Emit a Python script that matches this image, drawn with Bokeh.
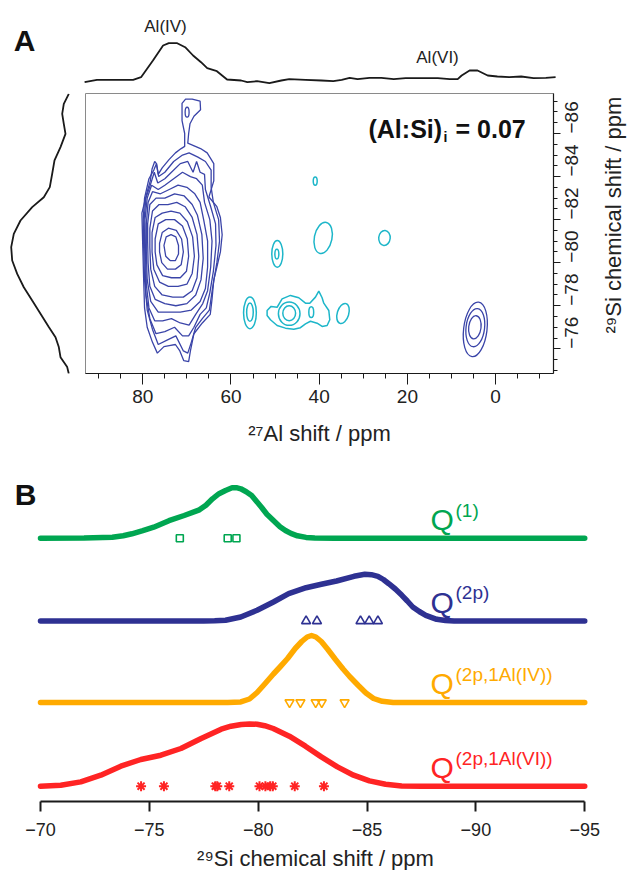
import math
from bokeh.plotting import figure
from bokeh.models import Range1d, FixedTicker, Label
from bokeh.layouts import column, row
from bokeh.embed import file_html
from bokeh.resources import INLINE

FONT = "Liberation Sans"

# ---------------- Panel A data ----------------
# 27Al projection (top trace)
al_proj_ppm = [93.2, 90.4, 85.0, 82.2, 80.4, 77.7, 75.4, 74.1, 72.2, 70.4, 68.6, 66.8, 65.4, 63.2, 60.9,
               57.7, 56.3, 54.1, 51.3, 48.6, 46.8, 43.1, 39.5, 36.8, 34.9, 33.1, 31.3, 28.6, 25.9, 23.1,
               20.4, 16.8, 13.1, 10.4, 8.6, 7.7, 5.9, 4.1, 1.8, -0.4, -3.1, -5.8, -8.6, -11.4, -13.6]
al_proj_int = [0.3, 2.7, 2.7, 2.7, 5.3, 22, 37, 39.3, 39.3, 35.3, 27, 20.3, 14.3, 11.3, 3,
               2, 0.3, 1.3, -0.7, 2, 3.3, 2.7, 2, 1.3, 2.7, 4.7, 3.3, 4.7, 4.7, 3.3,
               4.3, 4.3, 4.3, 3.3, 3.3, 7, 12, 12, 7, 6, 5.3, 6, 4.3, 4.7, 5.3]

# 29Si projection (left trace)
si_proj_ppm = [-87.84, -87.38, -86.91, -86.45, -85.98, -85.37, -84.75, -84.13, -83.51, -83.04, -82.58,
               -81.96, -81.34, -80.72, -80.10, -79.48, -78.86, -78.24, -77.63, -77.01, -76.54, -76.08,
               -75.61, -75.15, -74.84]
si_proj_int = [1.7, 6.7, 8.3, 6.7, 5, 10, 16, 18.3, 20.7, 26.7, 38.3, 50, 56.7, 59.3, 58.3, 53.3,
               46.7, 38.3, 30, 21.7, 15, 11.7, 10, 3.3, 1.7]

# Al(IV) correlation: nested contour levels (27Al ppm, 29Si ppm)
alIV_contours_al = [
    [70.5, 70.5, 71.1, 71.1, 70.3, 68.8, 67.0, 66.9, 68.4, 69.3, 69.6, 69.8, 66.9, 65.4, 63.9, 63.9, 65.0, 63.2,
     62.4, 62.0, 62.4, 63.2, 63.9, 64.3, 64.7, 66.5, 68.4, 69.2, 69.6, 70.7, 71.6, 72.6, 74.0, 75.2, 76.7, 77.8,
     79.0, 79.6, 79.8, 80.0, 80.2, 79.6, 79.0, 78.3, 77.9, 77.3, 76.9, 76.5, 75.6, 74.0, 72.6, 71.3],
    [79.9, 79.6, 78.6, 77.5, 76.9, 76.4, 75.0, 73.0, 71.0, 69.5, 67.5, 65.8, 64.5, 64.5, 64.0, 62.8, 62.6, 63.2,
     64.2, 64.9, 66.5, 68.0, 69.0, 69.8, 70.8, 72.5, 74.5, 76.5, 77.8, 79.0, 79.6, 79.8],
    [79.7, 79.3, 78.3, 77.4, 76.6, 75.0, 73.5, 71.5, 69.8, 68.6, 67.8, 67.0, 66.0, 65.8, 64.6, 63.5, 63.4, 64.0,
     64.8, 65.6, 67.0, 68.4, 69.6, 71.0, 72.8, 75.0, 77.0, 78.4, 79.3, 79.5, 79.6],
    [79.5, 79.0, 78.0, 76.5, 75.0, 73.0, 71.0, 69.2, 67.8, 66.5, 66.0, 64.8, 64.3, 64.6, 65.3, 66.4, 68.0, 69.5,
     71.5, 73.5, 75.5, 77.3, 78.6, 79.2, 79.4],
    [79.2, 78.8, 77.8, 76.0, 74.0, 72.0, 70.0, 68.2, 67.0, 66.2, 65.3, 65.3, 65.8, 67.0, 69.0, 71.5, 74.0, 76.5,
     78.2, 79.0, 79.2],
    [78.9, 78.4, 77.0, 75.0, 72.8, 70.6, 68.8, 67.6, 66.6, 66.3, 66.8, 68.0, 70.0, 72.5, 75.0, 77.2, 78.4, 78.8, 78.9],
    [78.4, 77.8, 76.3, 74.3, 72.3, 70.4, 68.8, 67.7, 67.3, 67.7, 68.8, 70.8, 73.2, 75.6, 77.3, 78.2, 78.4],
    [77.9, 77.2, 75.6, 73.6, 71.6, 69.9, 68.7, 68.3, 68.8, 70.0, 72.0, 74.2, 76.2, 77.5, 77.9],
    [77.2, 76.5, 74.8, 72.8, 71.0, 69.9, 69.6, 70.1, 71.5, 73.5, 75.5, 76.8, 77.2],
    [76.2, 75.6, 74.2, 72.4, 71.2, 70.8, 71.3, 72.6, 74.4, 75.7, 76.2],
    [75.2, 74.7, 73.6, 72.5, 71.9, 71.9, 72.6, 73.8, 74.8],
]
alIV_contours_si = [
    [-85.4, -86.0, -86.6, -87.4, -87.6, -87.6, -87.5, -87.1, -86.8, -86.45, -86.0, -85.55, -85.3, -85.1, -84.6,
     -83.8, -83.05, -82.6, -82.1, -81.3, -80.5, -79.8, -79.2, -78.3, -77.6, -77.2, -76.7, -75.9, -75.4, -75.45,
     -75.9, -76.2, -76.15, -76.1, -75.8, -76.3, -77.0, -77.9, -79.2, -80.7, -82.3, -82.8, -83.3, -83.8, -84.35,
     -84.7, -84.6, -84.1, -84.4, -84.8, -85.1, -85.3],
    [-82.0, -83.0, -83.9, -84.3, -84.6, -84.0, -84.2, -84.7, -85.0, -85.1, -84.9, -84.7, -84.3, -83.5, -82.8,
     -82.0, -81.0, -80.0, -78.8, -77.8, -77.4, -77.0, -76.3, -75.8, -75.9, -76.6, -76.4, -76.2, -76.9, -77.8,
     -79.2, -80.7],
    [-82.0, -83.0, -83.6, -84.2, -83.7, -83.9, -84.2, -84.6, -84.7, -84.2, -84.7, -84.2, -84.1, -83.4, -82.6,
     -81.8, -80.8, -79.6, -78.6, -77.9, -77.6, -77.0, -76.6, -76.6, -77.0, -76.8, -76.7, -77.4, -78.5, -80.0,
     -81.0],
    [-82.0, -83.0, -83.6, -83.4, -83.6, -83.9, -84.2, -84.0, -83.9, -83.6, -82.8, -82.0, -81.0, -79.8, -78.7,
     -78.1, -77.6, -77.1, -77.2, -77.4, -77.3, -77.3, -77.9, -79.0, -80.5],
    [-81.8, -82.8, -83.3, -83.2, -83.4, -83.6, -83.5, -83.2, -82.8, -82.0, -81.0, -79.8, -78.8, -78.2, -77.8,
     -77.7, -77.7, -77.7, -78.2, -79.2, -80.5],
    [-81.8, -82.7, -83.0, -83.0, -83.2, -83.1, -82.7, -82.2, -81.3, -80.2, -79.2, -78.5, -78.1, -78.0, -78.1,
     -78.3, -78.9, -80.0, -81.0],
    [-81.6, -82.4, -82.7, -82.7, -82.8, -82.6, -82.1, -81.3, -80.3, -79.3, -78.7, -78.4, -78.4, -78.5, -78.9,
     -79.7, -80.7],
    [-81.4, -82.1, -82.3, -82.4, -82.3, -81.9, -81.2, -80.3, -79.5, -79.0, -78.9, -78.9, -79.1, -79.7, -80.5],
    [-81.1, -81.8, -82.0, -82.0, -81.7, -81.1, -80.3, -79.6, -79.3, -79.3, -79.4, -79.9, -80.5],
    [-80.9, -81.4, -81.6, -81.5, -81.1, -80.5, -79.9, -79.7, -79.7, -80.0, -80.5],
    [-80.8, -81.2, -81.3, -81.2, -80.8, -80.4, -80.1, -80.1, -80.3],
]
# small closed blue contours (centre, extent in ppm)
blue_spot_al = [69.95, 4.6, 4.6, 4.7]
blue_spot_si = [-86.99, -76.9, -76.98, -77.0]
blue_spot_w = [0.9, 5.3, 4.2, 2.8]
blue_spot_h = [0.46, 2.55, 1.78, 1.08]
blue_spot_tilt = [0.0, -0.12, -0.12, -0.12]

# cyan (negative) contours
cyan_outline_al = [51.81, 50.90, 49.54, 48.41, 46.52, 44.63, 43.11, 42.13, 40.85, 40.09, 39.34, 38.96, 37.82,
                   37.60, 38.20, 39.34, 40.47, 41.98, 43.11, 44.25, 45.76, 47.65, 49.54, 51.05, 51.81]
cyan_outline_si = [-77.78, -77.97, -77.93, -78.32, -78.48, -78.37, -78.12, -78.12, -78.40, -78.68, -78.37,
                   -78.12, -77.78, -77.35, -77.08, -77.04, -77.19, -77.28, -77.16, -76.98, -76.91, -76.96,
                   -77.08, -77.35, -77.55]
cyan_spot_al = [55.7, 55.7, 49.5, 49.6, 46.8, 46.8, 41.8, 34.6, 39.1, 40.9, 25.2]
cyan_spot_si = [-77.67, -77.7, -80.41, -80.4, -77.63, -77.65, -77.70, -77.64, -81.15, -83.79, -81.15]
cyan_spot_w = [2.9, 1.5, 2.5, 0.9, 4.9, 2.9, 1.1, 2.6, 4.0, 0.9, 2.6]
cyan_spot_h = [1.47, 0.85, 1.24, 0.46, 1.08, 0.7, 0.5, 0.96, 1.47, 0.39, 0.7]
cyan_spot_tilt = [0, 0, 0, 0, 0, 0, 0, -0.3, -0.2, 0, -0.1]

al_major = [80, 60, 40, 20, 0]
al_minor = [90, 85, 75, 70, 65, 55, 50, 45, 35, 30, 25, 15, 10, 5, -5, -10]
si_major = [-86, -84, -82, -80, -78, -76]
si_minor = [-87.5, -87, -86.5, -85.5, -85, -84.5, -83.5, -83, -82.5, -81.5, -81, -80.5, -79.5, -79, -78.5,
            -77.5, -77, -76.5, -75.5, -75]

# ---------------- Panel B data ----------------
q1_ppm = [-70.0, -72.0, -73.3, -73.8, -74.2, -74.7, -75.2, -75.9, -76.6, -77.3, -77.6, -77.9, -78.2, -78.5,
          -78.8, -79.0, -79.2, -79.45, -79.7, -79.9, -80.15, -80.4, -80.7, -81.0, -81.25, -81.5, -81.8, -82.2,
          -82.6, -83.5, -95.0]
q1_int = [0, 0.2, 1.0, 2.4, 4.4, 7.5, 11, 17.5, 22.7, 28.4, 33, 39.4, 44.5, 47.7, 50.4, 50.5, 49.4, 46.5,
          42.7, 37.5, 31, 24, 17.7, 11.5, 7.7, 4.8, 2.4, 0.8, 0.2, 0, 0]
q2_ppm = [-70.0, -77.5, -78.0, -78.5, -79.2, -79.95, -80.7, -81.4, -82.2, -82.9, -83.6, -84.4, -84.9, -85.2,
          -85.5, -85.75, -86.0, -86.3, -86.6, -86.85, -87.1, -87.4, -87.7, -88.2, -88.6, -89.0, -95.0]
q2_int = [0, 0, 0.2, 0.7, 4, 10.7, 19, 27.3, 33.3, 36.7, 40, 44.7, 46.7, 46.3, 44.7, 41.5, 37.3, 32, 25.7,
          20, 14, 9.5, 5.7, 1.7, 0.6, 0, 0]
q4_ppm = [-70.0, -78.6, -79.2, -79.6, -79.95, -80.3, -80.7, -81.0, -81.35, -81.7, -82.0, -82.25, -82.45,
          -82.65, -82.9, -83.2, -83.55, -83.9, -84.2, -84.6, -84.95, -85.3, -85.7, -86.2, -95.0]
q4_int = [0, 0, 0.6, 3.5, 10, 18.5, 28.5, 35.5, 44, 54, 61, 65.5, 67, 65.5, 61, 53, 43, 33.5, 26, 17,
          9.5, 4, 1.2, 0.1, 0]
q6_ppm = [-70.0, -70.93, -71.85, -72.77, -73.69, -74.61, -75.53, -76.45, -77.38, -78.30, -78.75, -79.22,
          -79.6, -79.95, -80.3, -80.69, -81.43, -82.17, -82.90, -83.64, -84.38, -85.11, -85.85, -86.59, -87.5,
          -95.0]
q6_int = [0, 1, 4.3, 11, 20, 26.7, 31, 37.7, 47.7, 57, 60, 61.7, 62.3, 62, 60.5, 57.7, 50, 40, 29.3, 19.3,
          11, 5.3, 2, 0.3, 0, 0]

q1_sites = [-76.4, -78.6, -79.0]
q2_sites = [-82.2, -82.7, -84.7, -85.1, -85.5]
q4_sites = [-81.44, -81.94, -82.64, -82.92, -83.97]
q6_sites = [-74.62, -75.67, -78.03, -78.12, -78.67, -80.06, -80.33, -80.55, -80.67, -81.68, -83.02]

b_ticks = [-70, -75, -80, -85, -90, -95]

# ---------------- styles ----------------
C_BLUE_CT = "#3A44A8"
C_CYAN = "#1DB6C9"
C_GREEN = "#00A651"
C_NAVY = "#2E3192"
C_ORANGE = "#FFAA00"
C_RED = "#FF2424"
C_BLACK = "#1A1A1A"
C_TEXT = "#222222"


def base_fig(**kw):
    p = figure(output_backend="svg", toolbar_location=None, **kw)
    p.xgrid.visible = False
    p.ygrid.visible = False
    p.background_fill_color = "white"
    p.border_fill_color = "white"
    return p


def blank_fig(width, height, xr, yr):
    p = base_fig(width=width, height=height, x_range=Range1d(*xr), y_range=Range1d(*yr),
                 x_axis_location=None, y_axis_location=None,
                 min_border_left=0, min_border_right=0, min_border_top=0, min_border_bottom=0)
    p.outline_line_color = None
    return p


# helpers: picture pixel -> data coordinates (for annotation placement only)
def ax(rx):
    return 80 - (rx - 142.3) / 4.41


def ay(ry):
    return -86 + (ry - 133) / 21.53


def bx(rx):
    return -70 - (rx - 40) / 21.77


def by(ry):
    return 801 - ry


# ---- top trace (picture rows 0-92) ----
top = blank_fig(629, 92, (112.27, -30.36), (-10, 82))
top.line(al_proj_ppm, al_proj_int, line_color=C_BLACK, line_width=1.8)
top.add_layout(Label(x=ax(24), y=82 - 40, text="A", text_font=FONT, text_font_size="30px",
                     text_font_style="bold", text_align="center", text_baseline="middle", text_color="#111"))
top.add_layout(Label(x=ax(165), y=82 - 26, text="Al(IV)", text_font=FONT, text_font_size="17px",
                     text_align="center", text_baseline="middle", text_color=C_TEXT))
top.add_layout(Label(x=ax(437), y=82 - 57, text="Al(VI)", text_font=FONT, text_font_size="17px",
                     text_align="center", text_baseline="middle", text_color=C_TEXT))

# ---- main contour plot (rows 92-412) ----
si_range = Range1d(-74.853, -87.858)
main = base_fig(width=514, height=320, x_range=Range1d(92.99, -13.13), y_range=si_range,
                y_axis_location="right", min_border_left=0, min_border_right=46,
                min_border_top=1, min_border_bottom=39)
main.outline_line_color = "#8a8a8a"
main.outline_line_width = 1

for xs_, ys_ in zip(alIV_contours_al, alIV_contours_si):
    main.patch(xs_ + [xs_[0]], ys_ + [ys_[0]], fill_color=None, line_color=C_BLUE_CT, line_width=1.3)
main.ellipse(x=blue_spot_al, y=blue_spot_si, width=blue_spot_w, height=blue_spot_h, angle=blue_spot_tilt,
             fill_color=None, line_color=C_BLUE_CT, line_width=1.3)
main.patch(cyan_outline_al, cyan_outline_si, fill_color=None, line_color=C_CYAN, line_width=1.5)
main.ellipse(x=cyan_spot_al, y=cyan_spot_si, width=cyan_spot_w, height=cyan_spot_h, angle=cyan_spot_tilt,
             fill_color=None, line_color=C_CYAN, line_width=1.5)

xa = main.xaxis[0]
xa.ticker = FixedTicker(ticks=al_major, minor_ticks=al_minor)
ya = main.yaxis[0]
ya.ticker = FixedTicker(ticks=si_major, minor_ticks=si_minor)
ya.major_label_orientation = math.pi / 2
for a in (xa, ya):
    a.axis_line_color = C_BLACK
    a.axis_line_width = 1.2
    a.major_tick_line_color = C_BLACK
    a.minor_tick_line_color = C_BLACK
    a.major_tick_in = 0
    a.minor_tick_in = 0
    a.major_label_text_font = FONT
    a.major_label_text_font_size = "19px"
    a.major_label_text_color = C_TEXT
xa.major_tick_out = 11
xa.minor_tick_out = 5
xa.major_label_standoff = 5
ya.major_tick_out = 7
ya.minor_tick_out = 4
ya.major_label_standoff = 11

main.add_layout(Label(x=ax(368), y=ay(128.5), text="(Al:Si)", text_font=FONT, text_font_size="25px",
                      text_font_style="bold", text_align="left", text_baseline="alphabetic", text_color="#111"))
main.add_layout(Label(x=ax(443), y=ay(136), text="i", text_font=FONT, text_font_size="14px",
                      text_font_style="bold", text_align="left", text_baseline="alphabetic", text_color="#111"))
main.add_layout(Label(x=ax(455), y=ay(128.5), text="= 0.07", text_font=FONT, text_font_size="25px",
                      text_font_style="bold", text_align="left", text_baseline="alphabetic", text_color="#111"))

# ---- left trace (columns 0-85) ----
left = base_fig(width=85, height=320, x_range=Range1d(70, -15), y_range=si_range,
                x_axis_location=None, y_axis_location=None, min_border_left=0, min_border_right=0,
                min_border_top=1, min_border_bottom=39)
left.outline_line_color = None
left.line(si_proj_int, si_proj_ppm, line_color=C_BLACK, line_width=1.8)

# ---- right axis title strip (columns 599-629, rows 92-412) ----
rlab = blank_fig(30, 320, (599, 629), (412, 92))
rlab.add_layout(Label(x=613, y=231, text="²⁹Si chemical shift / ppm", text_font=FONT, text_font_size="22px",
                      angle=math.pi / 2, text_align="center", text_baseline="middle", text_color=C_TEXT))

# ---- panel B (rows 412-842) ----
pb = base_fig(width=629, height=430, x_range=Range1d(-68.163, -97.056), y_range=Range1d(0, 389),
              y_axis_location=None, min_border_left=0, min_border_right=0, min_border_top=0,
              min_border_bottom=41)
pb.outline_line_color = None

series = [
    (q1_ppm, q1_int, q1_sites, C_GREEN, 537.7, "square", 7, "(1)"),
    (q2_ppm, q2_int, q2_sites, C_NAVY, 620.5, "triangle", 9, "(2p)"),
    (q4_ppm, q4_int, q4_sites, C_ORANGE, 702.0, "inverted_triangle", 9, "(2p,1Al(IV))"),
    (q6_ppm, q6_int, q6_sites, C_RED, 785.7, "asterisk", 10, "(2p,1Al(VI))"),
]
for ppm, inten, sites, col, base_ry, mk, ms, sup in series:
    b0 = by(base_ry)
    pb.line(ppm, [b0 + v for v in inten], line_color=col, line_width=5.5, line_cap="round", line_join="round")
    pb.scatter(sites, [b0] * len(sites), marker=mk, size=ms, fill_color=None, line_color=col,
               line_width=2 if mk == "asterisk" else 1.6)
    q_base = base_ry - 18.7
    pb.add_layout(Label(x=bx(430), y=by(q_base), text="Q", text_font=FONT, text_font_size="30px",
                        text_align="left", text_baseline="alphabetic", text_color=col))
    pb.add_layout(Label(x=bx(455), y=by(q_base - 9.5), text=sup, text_font=FONT, text_font_size="19px",
                        text_align="left", text_baseline="alphabetic", text_color=col))

# panel A x-axis title lives in the white gap above panel B
pb.add_layout(Label(x=bx(319), y=by(433), text="²⁷Al shift / ppm", text_font=FONT, text_font_size="22px",
                    text_align="center", text_baseline="alphabetic", text_color=C_TEXT))
pb.add_layout(Label(x=bx(25), y=by(494), text="B", text_font=FONT, text_font_size="30px",
                    text_font_style="bold", text_align="center", text_baseline="middle", text_color="#111"))

bxa = pb.xaxis[0]
bxa.ticker = FixedTicker(ticks=b_ticks)
bxa.bounds = (-95, -70)
bxa.major_label_overrides = {t: "\u2212" + str(abs(t)) for t in b_ticks}
bxa.axis_line_color = C_BLACK
bxa.axis_line_width = 2
bxa.major_tick_line_color = C_BLACK
bxa.major_tick_line_width = 2
bxa.major_tick_in = 0
bxa.major_tick_out = 10
bxa.minor_tick_line_color = None
bxa.major_label_standoff = 11
bxa.major_label_text_font = FONT
bxa.major_label_text_font_size = "18px"
bxa.major_label_text_color = C_TEXT

# ---- panel B x-axis title strip (rows 842-870) ----
blab = blank_fig(629, 28, (0, 629), (870, 842))
blab.add_layout(Label(x=315, y=858, text="²⁹Si chemical shift / ppm", text_font=FONT, text_font_size="22px",
                      text_align="center", text_baseline="alphabetic", text_color=C_TEXT))

layout = column(top, row(left, main, rlab), pb, blab)
open("out.html", "w").write(file_html(layout, INLINE))
